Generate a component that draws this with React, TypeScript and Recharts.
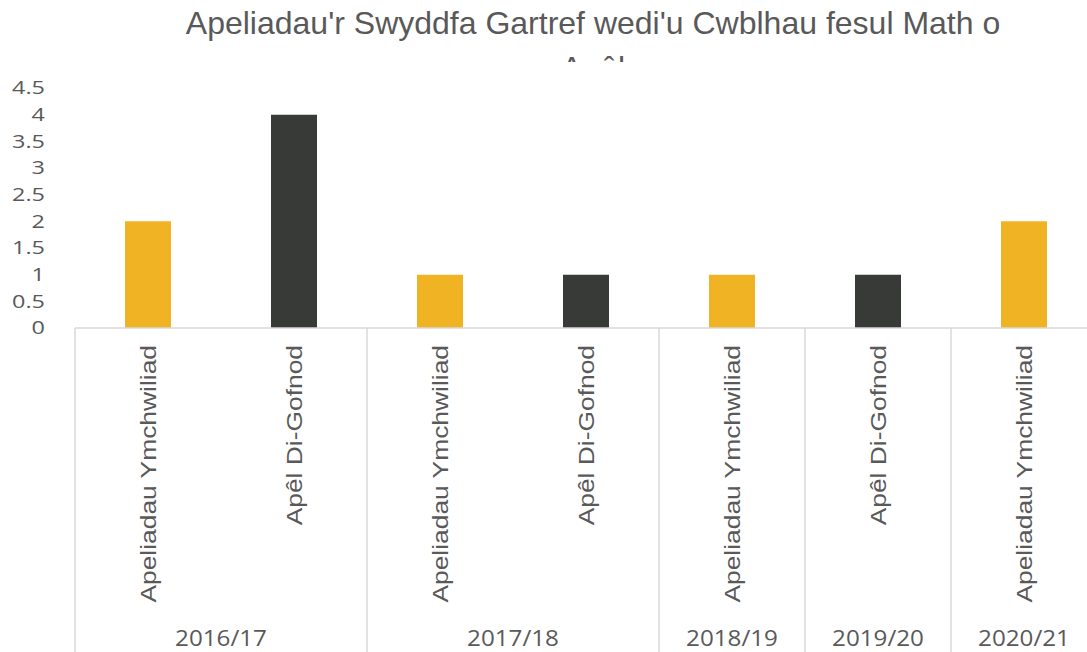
import { BarChart, Bar, XAxis, YAxis, Cell } from 'recharts';

// ── Data ────────────────────────────────────────────────────────────────────

const years = ['2016/17', '2016/17', '2017/18', '2017/18', '2018/19', '2019/20', '2020/21'];
const appealTypes = [
  'Apeliadau Ymchwiliad',
  'Apêl Di-Gofnod',
  'Apeliadau Ymchwiliad',
  'Apêl Di-Gofnod',
  'Apeliadau Ymchwiliad',
  'Apêl Di-Gofnod',
  'Apeliadau Ymchwiliad',
];
const counts = [2, 4, 1, 1, 1, 1, 2];
const yTicks = [0, 0.5, 1, 1.5, 2, 2.5, 3, 3.5, 4, 4.5];

const typeColors: Record<string, string> = {
  'Apeliadau Ymchwiliad': '#F0B323',
  'Apêl Di-Gofnod': '#373A36',
};

const data = counts.map((v, i) => ({ type: appealTypes[i], year: years[i], value: v }));

// ── Layout ──────────────────────────────────────────────────────────────────

const CHART_W = 1110;
const CHART_H = 652;
const MARGIN = { top: 88, right: 13, left: 0, bottom: 0 };
const Y_W = 75;
const BAND = (CHART_W - MARGIN.right - MARGIN.left - Y_W) / data.length;
const AXIS_Y = 328;
const TEXT = '#595959';
const GRID = '#D9D9D9';

const groupStart = (i: number) => i === 0 || years[i] !== years[i - 1];
const groupSize = (i: number) => years.filter(y => y === years[i]).length;

function YTick({ x, y, payload }: any) {
  return (
    <g transform={`translate(${x},${y}) scale(1.3,1)`}>
      <text x={0} y={0} dy="0.36em" textAnchor="end" fill={TEXT}
        style={{ fontFamily: "'Open Sans', sans-serif", fontSize: 18 }}>
        {payload.value}
      </text>
    </g>
  );
}

function TypeTick({ x, y, payload, index }: any) {
  return (
    <g>
      {groupStart(index) && (
        <line x1={x - BAND / 2} x2={x - BAND / 2} y1={AXIS_Y} y2={CHART_H} stroke={GRID} strokeWidth={1.5} />
      )}
      <g transform={`translate(${x},${y + 17}) rotate(-90) scale(1.2,1)`}>
        <text x={0} y={0} dy="0.36em" textAnchor="end" fill={TEXT}
          style={{ fontFamily: "'Liberation Sans', Arial, sans-serif", fontSize: 22 }}>
          {payload.value}
        </text>
      </g>
    </g>
  );
}

function YearTick({ x, y, payload, index }: any) {
  if (!groupStart(index)) return null;
  const cx = x + ((groupSize(index) - 1) * BAND) / 2;
  return (
    <g transform={`translate(${cx},${y + 26}) scale(1.1,1)`}>
      <text x={0} y={0} dy="0.36em" textAnchor="middle" fill={TEXT}
        style={{ fontFamily: "'Open Sans', sans-serif", fontSize: 22 }}>
        {payload.value}
      </text>
    </g>
  );
}

export default function App() {
  return (
    <div style={{ position: 'absolute', left: 0, top: 0, width: 1087, height: 652, overflow: 'hidden', background: '#fff' }}>
      {/* title: second line is cut off by the plot area, as in the source */}
      <div style={{
        position: 'absolute', left: 0, top: 1, width: 1186, height: 61, overflow: 'hidden',
        textAlign: 'center', fontFamily: "'Liberation Sans', Arial, sans-serif", fontSize: 32,
        lineHeight: '45px', color: TEXT,
      }}>
        Apeliadau'r Swyddfa Gartref wedi'u Cwblhau fesul Math o<br />Apêl
      </div>
      <BarChart width={CHART_W} height={CHART_H} data={data} margin={MARGIN} barSize={46}>
        <YAxis
          width={Y_W}
          domain={[0, 4.5]}
          ticks={yTicks}
          interval={0}
          axisLine={false}
          tickLine={false}
          tickMargin={24}
          tick={<YTick />}
        />
        <XAxis
          xAxisId="type"
          dataKey="type"
          height={284}
          interval={0}
          tickLine={false}
          tickSize={0}
          tickMargin={0}
          axisLine={{ stroke: GRID, strokeWidth: 1.5 }}
          tick={<TypeTick />}
        />
        <XAxis
          xAxisId="year"
          dataKey="year"
          height={40}
          interval={0}
          tickLine={false}
          tickSize={0}
          tickMargin={0}
          axisLine={false}
          tick={<YearTick />}
        />
        <Bar dataKey="value" xAxisId="type" isAnimationActive={false}>
          {data.map((d, i) => (
            <Cell key={i} fill={typeColors[d.type]} />
          ))}
        </Bar>
      </BarChart>
    </div>
  );
}
